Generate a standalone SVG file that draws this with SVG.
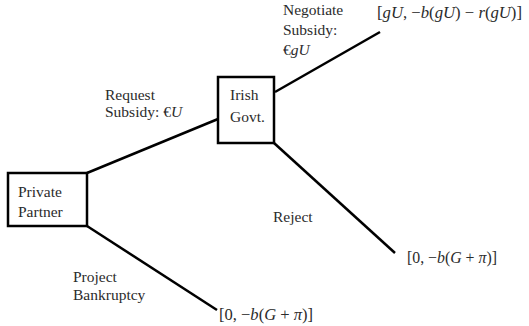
<svg xmlns="http://www.w3.org/2000/svg" width="529" height="326" viewBox="0 0 529 326">
<style>
.box{fill:#fff;stroke:#000;stroke-width:2.5}
.edge{stroke:#000;stroke-width:2.5;fill:none}
.lbl{font-family:"Liberation Serif","Times New Roman",serif;font-size:15.5px;fill:#2b2b2b}
.math{font-family:"Liberation Serif","Times New Roman",serif;font-size:16px;fill:#2b2b2b}
.it{font-style:italic}
</style>
<rect width="529" height="326" fill="#fff"/>
<g id="connectors">
<line class="edge" x1="87" y1="173" x2="218" y2="119"/>
<line class="edge" x1="275" y1="92" x2="380" y2="32"/>
<line class="edge" x1="274" y1="143" x2="395" y2="253"/>
<line class="edge" x1="87" y1="226" x2="217" y2="310"/>
</g>
<g id="private-partner">
<rect class="box" x="8" y="173" width="79" height="53"/>
<text class="lbl" x="18" y="197">Private</text>
<text class="lbl" x="18" y="217">Partner</text>
</g>
<g id="irish-govt">
<rect class="box" x="218" y="77" width="56" height="66"/>
<text class="lbl" x="230" y="100">Irish</text>
<text class="lbl" x="230" y="122">Govt.</text>
</g>
<g id="edge-labels">
<text class="lbl" x="105" y="100">Request</text>
<text class="lbl" x="105" y="117">Subsidy: €<tspan class="it">U</tspan></text>
<text class="lbl" x="283" y="15">Negotiate</text>
<text class="lbl" x="283" y="35">Subsidy:</text>
<text class="lbl" x="283" y="55">€<tspan class="it">gU</tspan></text>
<text class="lbl" x="273" y="222">Reject</text>
<text class="lbl" x="73" y="282">Project</text>
<text class="lbl" x="73" y="300">Bankruptcy</text>
</g>
<g id="payoffs">
<text class="math" x="377" y="18" textLength="145" lengthAdjust="spacingAndGlyphs">[<tspan class="it">gU</tspan>, −<tspan class="it">b</tspan>(<tspan class="it">gU</tspan>) − <tspan class="it">r</tspan>(<tspan class="it">gU</tspan>)]</text>
<text class="math" x="407" y="263" textLength="90" lengthAdjust="spacingAndGlyphs">[0, −<tspan class="it">b</tspan>(<tspan class="it">G</tspan> + <tspan class="it">π</tspan>)]</text>
<text class="math" x="219" y="320" textLength="94" lengthAdjust="spacingAndGlyphs">[0, −<tspan class="it">b</tspan>(<tspan class="it">G</tspan> + <tspan class="it">π</tspan>)]</text>
</g>
</svg>
